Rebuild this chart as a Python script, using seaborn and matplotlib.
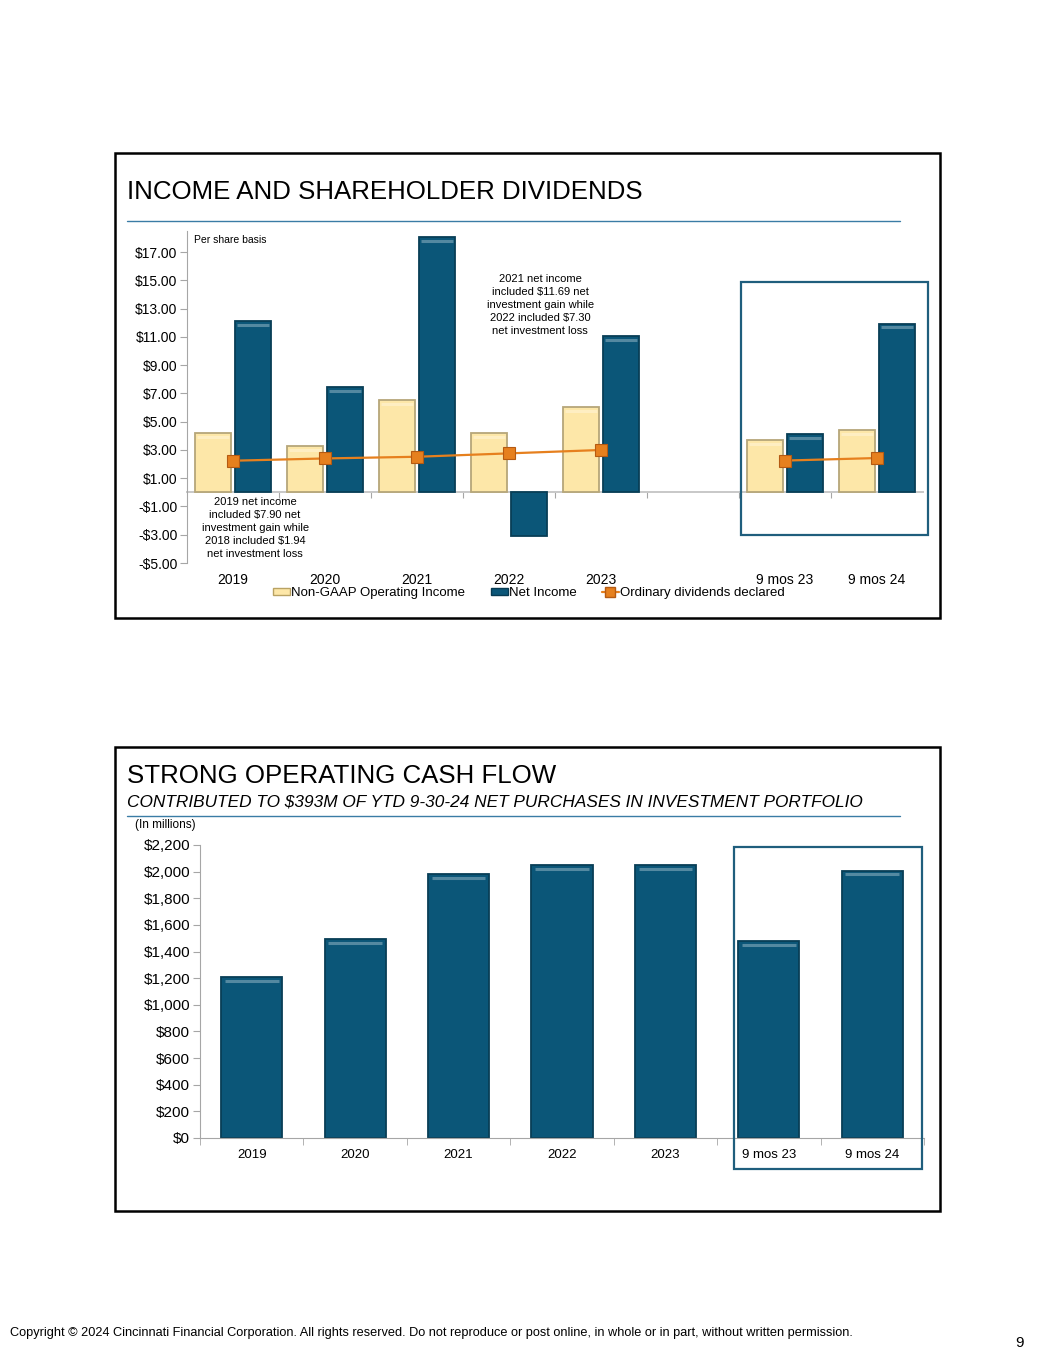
import numpy as np
import pandas as pd
import matplotlib
matplotlib.use("Agg")
import matplotlib.pyplot as plt
import matplotlib.colors as mcolors
from matplotlib.patches import Rectangle, Patch
from matplotlib.lines import Line2D
import seaborn as sns

# data, per share basis (top) and in millions (bottom)
periods = ['2019', '2020', '2021', '2022', '2023', '9 mos 23', '9 mos 24']
slots_top = ['2019', '2020', '2021', '2022', '2023', ' ', '9 mos 23', '9 mos 24']
op_income = [4.20, 3.27, 6.55, 4.22, 6.04, 3.72, 4.42]
net_income = [12.10, 7.49, 18.10, -3.06, 11.05, 4.12, 11.95]
dividends = [2.24, 2.40, 2.52, 2.76, 3.00, 2.25, 2.43]
cash_flow = [1209, 1494, 1983, 2050, 2050, 1476, 2008]

series_names = ['Non-GAAP Operating Income', 'Net Income']
tan = '#FDE7A8'
blue = '#0B5678'
orange = '#E6801E'
grey = '#A6A6A6'
frame_blue = '#1F5E7D'

sns.set_style('white')
plt.rcParams['font.family'] = ['Liberation Sans', 'DejaVu Sans']
plt.rcParams['text.color'] = 'black'
plt.rcParams['xtick.labelcolor'] = 'black'
plt.rcParams['ytick.labelcolor'] = 'black'

fig = plt.figure(figsize=(10.55, 13.65), dpi=100)
W, H = 1055, 1365


def fx(px):
    return px / W


def fy(py):
    return 1 - py / H


def panel(top, bottom):
    fig.add_artist(Rectangle((fx(115), fy(bottom)), fx(940) - fx(115), fy(top) - fy(bottom),
                             transform=fig.transFigure, fill=False, edgecolor='black', lw=1.8))


def bevel(ax, offset):
    # darker outline and a lighter stripe near the top of each bar
    for p in list(ax.patches):
        h = p.get_height()
        fc = np.array(mcolors.to_rgb(p.get_facecolor()))
        p.set_edgecolor(tuple(fc * 0.72))
        p.set_linewidth(1.3)
        if not np.isfinite(h) or h <= 0:
            continue
        light = tuple(fc + (1 - fc) * 0.3)
        x0, w = p.get_x(), p.get_width()
        ax.plot([x0 + w * 0.06, x0 + w * 0.94], [h - offset] * 2, color=light, lw=2.2,
                solid_capstyle='butt', zorder=p.get_zorder() + 0.1)


# ---------- top panel ----------
panel(153, 618)
fig.text(fx(127), fy(192), 'INCOME AND SHAREHOLDER DIVIDENDS', fontsize=18.6, va='center', ha='left')
fig.add_artist(Line2D([fx(127), fx(900)], [fy(221), fy(221)], transform=fig.transFigure,
                      color='#3A7CA5', lw=1))

ax1 = fig.add_axes([fx(187), fy(563), fx(923) - fx(187), fy(231) - fy(563)])
df_top = pd.DataFrame({
    'Period': periods * 2,
    'Series': [series_names[0]] * len(periods) + [series_names[1]] * len(periods),
    'Value': op_income + net_income,
})
sns.barplot(data=df_top, x='Period', y='Value', hue='Series', order=slots_top,
            hue_order=series_names, palette=[tan, blue], saturation=1, width=0.88, gap=0.1,
            errorbar=None, legend=False, ax=ax1, zorder=2)
bevel(ax1, 0.28)

# dividends line, broken at the empty slot
x_line = np.arange(len(slots_top), dtype=float)
y_line = np.array([dividends[periods.index(s)] if s in periods else np.nan for s in slots_top])
ax1.plot(x_line, y_line, color=orange, lw=1.6, marker='s', markersize=8,
         markerfacecolor=orange, markeredgecolor='#B55A12', markeredgewidth=0.8, zorder=4)

ax1.set_xlim(-0.5, len(slots_top) - 0.5)
ax1.set_ylim(-5, 18.5)
yt = np.arange(-5, 18, 2)
ax1.set_yticks(yt)
ax1.set_yticklabels([f'-${abs(v):.2f}' if v < 0 else f'${v:.2f}' for v in yt], fontsize=10)
ax1.tick_params(axis='y', length=5, color=grey, direction='out', pad=2, left=True)
ax1.tick_params(axis='x', length=0, labelsize=10, pad=7)
ax1.set_xlabel('')
ax1.set_ylabel('')
for s in ['top', 'right', 'bottom']:
    ax1.spines[s].set_visible(False)
ax1.spines['left'].set_color(grey)

# zero line with slot-boundary ticks
zero = ax1.secondary_xaxis(5 / 23.5)
zero.set_xticks(np.arange(0.5, len(slots_top) - 1, 1.0))
zero.set_xticklabels([])
zero.tick_params(length=4, color=grey, direction='out')
zero.spines['bottom'].set_color('#C8C8C8')
zero.spines['bottom'].set_linewidth(1.4)

ax1.add_patch(Rectangle((5.52, -3.02), 2.03, 17.92, fill=False, edgecolor=frame_blue,
                        lw=1.6, clip_on=False, zorder=5))

ax1.text(-0.42, 17.85, 'Per share basis', fontsize=7.5, va='center', ha='left')
ax1.text(3.34, 13.25, '2021 net income\nincluded $11.69 net\ninvestment gain while\n'
         '2022 included $7.30\nnet investment loss', fontsize=8, ha='center', va='center',
         linespacing=1.38)
ax1.text(0.24, -2.55, '2019 net income\nincluded $7.90 net\ninvestment gain while\n'
         '2018 included $1.94\nnet investment loss', fontsize=8, ha='center', va='center',
         linespacing=1.38, zorder=6)

handles = [
    Patch(facecolor=tan, edgecolor='#B9A263', label=series_names[0]),
    Patch(facecolor=blue, edgecolor='#073A52', label=series_names[1]),
    Line2D([0], [0], color=orange, lw=1.6, marker='s', markersize=7,
           markerfacecolor=orange, markeredgecolor='#B55A12', label='Ordinary dividends declared'),
]
fig.legend(handles=handles, loc='center', bbox_to_anchor=(fx(529), fy(593)), ncol=3,
           frameon=False, fontsize=9.5, handlelength=1.3, handleheight=0.5,
           handletextpad=0.1, columnspacing=1.9)

# ---------- bottom panel ----------
panel(747, 1211)
fig.text(fx(127), fy(776), 'STRONG OPERATING CASH FLOW', fontsize=18.6, va='center', ha='left')
fig.text(fx(127), fy(802), 'CONTRIBUTED TO $393M OF YTD 9-30-24 NET PURCHASES IN INVESTMENT PORTFOLIO',
         fontsize=12.4, style='italic', va='center', ha='left')
fig.add_artist(Line2D([fx(127), fx(900)], [fy(816), fy(816)], transform=fig.transFigure,
                      color='#3A7CA5', lw=1))
fig.text(fx(135), fy(825), '(In millions)', fontsize=8.5, va='center', ha='left')

ax2 = fig.add_axes([fx(200), fy(1138), fx(924) - fx(200), fy(845) - fy(1138)])
df_bot = pd.DataFrame({'Period': periods, 'Cash': cash_flow})
sns.barplot(data=df_bot, x='Period', y='Cash', order=periods, color=blue, saturation=1,
            width=0.59, errorbar=None, ax=ax2, zorder=2)
bevel(ax2, 28)

ax2.set_xlim(-0.5, len(periods) - 0.5)
ax2.set_ylim(0, 2200)
yt2 = np.arange(0, 2201, 200)
ax2.set_yticks(yt2)
ax2.set_yticklabels([f'${v:,.0f}' for v in yt2], fontsize=11)
ax2.tick_params(axis='y', length=5, color=grey, direction='out', pad=2, left=True)
ax2.set_xticks(np.arange(len(periods)))
ax2.set_xticklabels(periods, fontsize=9.5)
ax2.set_xticks(np.arange(-0.5, len(periods), 1.0), minor=True)
ax2.tick_params(axis='x', which='major', length=0, pad=8)
ax2.tick_params(axis='x', which='minor', length=5, color=grey, direction='out', bottom=True)
ax2.set_xlabel('')
ax2.set_ylabel('')
for s in ['top', 'right']:
    ax2.spines[s].set_visible(False)
ax2.spines['left'].set_color(grey)
ax2.spines['bottom'].set_color(grey)

ax2.add_patch(Rectangle((4.66, -230), 1.82, 2417, fill=False, edgecolor=frame_blue,
                        lw=1.6, clip_on=False, zorder=5))

# footer
fig.text(fx(10), fy(1333), 'Copyright \u00a9 2024 Cincinnati Financial Corporation. All rights reserved. '
         'Do not reproduce or post online, in whole or in part, without written permission.',
         fontsize=9.2, va='center', ha='left')
fig.text(fx(1024), fy(1343), '9', fontsize=11, va='center', ha='right')

fig.savefig('out.png', dpi=100, facecolor='white')
